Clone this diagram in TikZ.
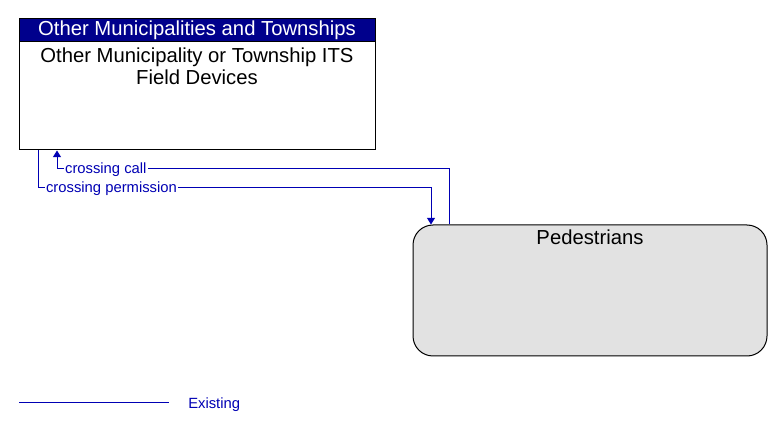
\documentclass[tikz,border=0pt]{standalone}
\usepackage{fontspec}
\setmainfont{Liberation Sans}
\usetikzlibrary{arrows.meta}
\definecolor{hdr}{RGB}{0,0,140}
\definecolor{flowc}{RGB}{0,0,180}
\definecolor{pedfill}{RGB}{226,226,226}
\tikzset{
  entbox/.style={draw=black, line width=0.75pt, minimum width=267pt, minimum height=98.25pt, inner sep=0pt},
  hdrbox/.style={draw=black, fill=hdr, line width=0.75pt, minimum width=267pt, minimum height=17.25pt, inner sep=0pt, text=white, font=\fontsize{15.2}{16}\selectfont},
  pedbox/.style={draw=black, fill=pedfill, line width=0.75pt, rounded corners=15pt, minimum width=265.5pt, minimum height=98.25pt, inner sep=0pt},
  flow/.style={draw=flowc, line width=0.75pt},
  flowarrow/.style={flow, -{Triangle[width=6pt,length=5pt]}},
  flabel/.style={text=flowc, font=\fontsize{11.1}{12}\selectfont, inner sep=1pt, fill=white, anchor=west},
  btext/.style={text=black, font=\fontsize{15.2}{16.8}\selectfont, align=center}
}
\begin{document}
\begin{tikzpicture}[x=0.75pt, y=-0.75pt]
\useasboundingbox (0,0) rectangle (783,431);
% top box
\node[entbox] (top) at (197,84.5) {};
\node[hdrbox] (tophdr) at (197,30.5) {\raisebox{-1.5pt}{Other Municipalities and Townships}};
\node[btext, anchor=north] (toptxt) at (197,43) {Other Municipality or Township ITS\\Field Devices};
% pedestrians
\node[pedbox] (ped) at (590,290.5) {};
\node[btext, anchor=north] (pedtxt) at (590,225.5) {Pedestrians};
% bends
\coordinate (a1) at (449,169);
\coordinate (a2) at (57,169);
\coordinate (b1) at (38,188);
\coordinate (b2) at (431,188);
% crossing call
\draw[flowarrow] (ped.north -| a1) -- (a1) -- (a2) -- (top.south -| a2);
\node[flabel] (lcall) at (63.5,170) {crossing call};
% crossing permission
\draw[flowarrow] (top.south -| b1) -- (b1) -- (b2) -- (ped.north -| b2);
\node[flabel] (lperm) at (44.5,189) {crossing permission};
% legend
\coordinate (l1) at (19,403);
\coordinate (l2) at (169,403);
\draw[flow] (l1) -- (l2);
\node[text=flowc, font=\fontsize{11.1}{12}\selectfont, anchor=west, inner sep=0pt] (lex) at (188,404.5) {Existing};
\end{tikzpicture}
\end{document}
